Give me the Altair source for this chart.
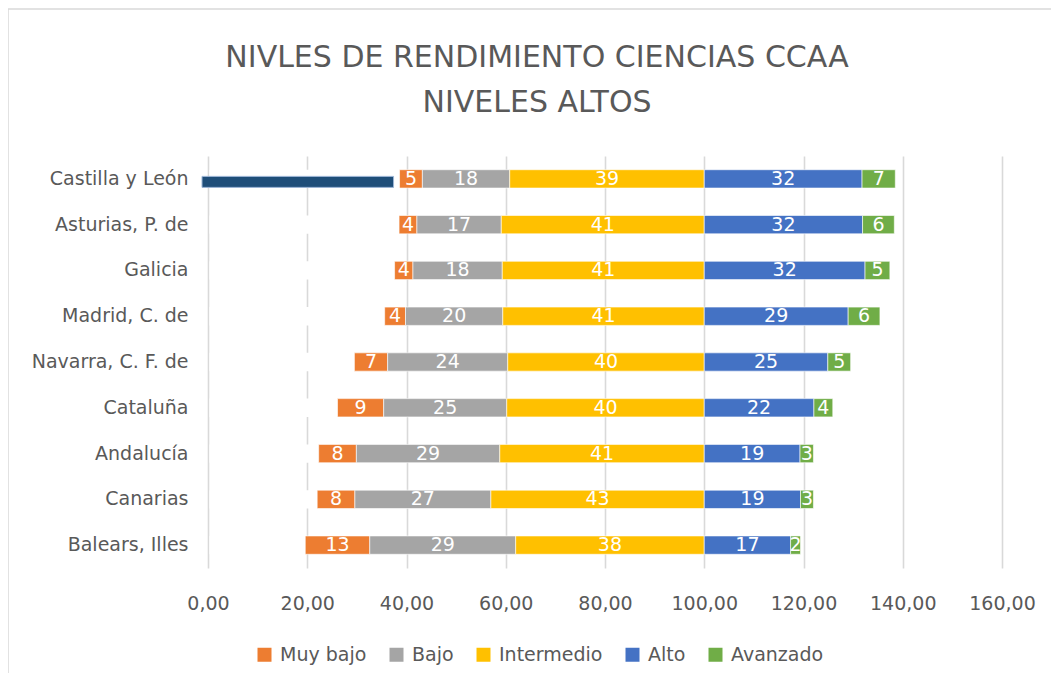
import altair as alt
import pandas as pd

regions = ["Castilla y León", "Asturias, P. de", "Galicia", "Madrid, C. de",
           "Navarra, C. F. de", "Cataluña", "Andalucía", "Canarias", "Balears, Illes"]
levels = ["Muy bajo", "Bajo", "Intermedio", "Alto", "Avanzado"]
colors = ["#ED7D31", "#A5A5A5", "#FFC000", "#4472C4", "#70AD47"]

muy_bajo = [4.6, 3.6, 3.7, 4.2, 6.7, 9.3, 7.6, 7.6, 13.0]
bajo = [17.6, 17.0, 18.0, 19.6, 24.2, 24.8, 28.9, 27.4, 29.4]
intermedio = [39.2, 40.9, 40.7, 40.6, 39.6, 39.8, 41.2, 43.0, 38.0]
alto = [31.8, 31.9, 32.4, 29.0, 24.9, 22.1, 19.3, 19.4, 17.4]
avanzado = [6.7, 6.4, 5.0, 6.4, 4.6, 3.8, 2.7, 2.6, 2.0]
highlight_region = "Castilla y León"

title_lines = ["NIVLES DE RENDIMIENTO CIENCIAS CCAA", "NIVELES ALTOS"]

FONT = "DejaVu Sans"
GREY = "#595959"

rows = []
offs = []
for i, r in enumerate(regions):
    vals = [muy_bajo[i], bajo[i], intermedio[i], alto[i], avanzado[i]]
    start = 100 - (vals[0] + vals[1] + vals[2])
    offs.append(dict(region=r, start=0.0, end=start, hl=(r == highlight_region)))
    cur = start
    for k, (lvl, v) in enumerate(zip(levels, vals)):
        rows.append(dict(region=r, level=lvl, k=k, value=v, start=cur,
                         end=cur + v, mid=cur + v / 2))
        cur += v

df = pd.DataFrame(rows)
off_df = pd.DataFrame(offs)
one = pd.DataFrame({"f": [0]})

y_enc = alt.Y("region:N", sort=regions,
              scale=alt.Scale(paddingInner=0.6, paddingOuter=0.3),
              axis=alt.Axis(title=None, domain=False, ticks=False, grid=False,
                            labelFontSize=19, labelColor=GREY, labelFont=FONT,
                            labelPadding=20))
x_scale = alt.Scale(domain=[0, 160], nice=False, zero=False)
x_axis = alt.Axis(title=None, values=list(range(0, 161, 20)), domain=False,
                  ticks=False, grid=True, gridColor="#d9d9d9", gridWidth=1.6,
                  labelExpr="replace(format(datum.value, '.2f'), '.', ',')",
                  labelFontSize=19, labelColor=GREY, labelFont=FONT,
                  labelPadding=26, labelFlush=False, labelOverlap=False)

# decorative chart-area frame
frame = alt.Chart(one).mark_rect(
    filled=False, stroke="#d9d9d9", strokeWidth=1.5
).encode(x=alt.value(-200), x2=alt.value(900), y=alt.value(-147), y2=alt.value(600))

# chart title, two lines
title1 = alt.Chart(one).mark_text(
    text=title_lines[0], font=FONT, fontSize=30, color=GREY,
    align="center", baseline="alphabetic"
).encode(x=alt.value(329), y=alt.value(-89))
title2 = alt.Chart(one).mark_text(
    text=title_lines[1], font=FONT, fontSize=30, color=GREY,
    align="center", baseline="alphabetic"
).encode(x=alt.value(329), y=alt.value(-44))

base_off = alt.Chart(off_df)
white_off = base_off.mark_bar(color="white", xOffset=1.5).encode(
    y=y_enc,
    x=alt.X("start:Q", scale=x_scale, axis=x_axis),
    x2="end:Q",
)
navy = base_off.transform_filter("datum.hl").mark_bar(
    color="#1F4E79", stroke="#9DB6D6", strokeWidth=1, size=11,
    xOffset=-6, x2Offset=-6, yOffset=3
).encode(
    y=alt.Y("region:N", sort=regions),
    x=alt.X("start:Q", scale=x_scale),
    x2="end:Q",
)

bars = alt.Chart(df).mark_bar(stroke="white", strokeWidth=1, strokeOpacity=0.6).encode(
    y=alt.Y("region:N", sort=regions),
    x=alt.X("start:Q", scale=x_scale),
    x2="end:Q",
    color=alt.Color("level:N", sort=levels,
                    scale=alt.Scale(domain=levels, range=colors),
                    legend=alt.Legend(title=None, orient="none", direction="horizontal",
                                      legendX=47, legendY=489, padding=0,
                                      symbolType="square", symbolSize=196,
                                      symbolStrokeWidth=0, labelFontSize=19,
                                      labelColor=GREY, labelFont=FONT,
                                      columnPadding=20, labelOffset=6)),
    order=alt.Order("k:Q"),
)

labels = alt.Chart(df).mark_text(color="white", fontSize=19, font=FONT,
                                 baseline="middle", align="center").encode(
    y=alt.Y("region:N", sort=regions),
    x=alt.X("mid:Q", scale=x_scale),
    text=alt.Text("value:Q", format=".0f"),
)

chart = alt.layer(frame, title1, title2, white_off, navy, bars, labels).properties(
    width=794, height=412,
    autosize=alt.AutoSizeParams(type="none"),
    padding={"left": 200, "top": 148, "right": 49, "bottom": 105},
).configure(background="white").configure_view(stroke=None)

chart.save("out.html", embed_options={"renderer": "svg", "actions": False})
